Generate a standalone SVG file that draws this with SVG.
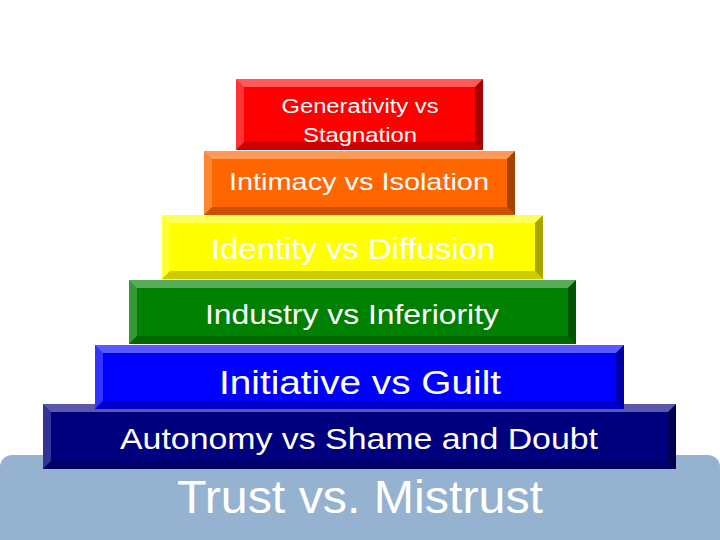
<svg xmlns="http://www.w3.org/2000/svg" width="720" height="540" viewBox="0 0 720 540">
<style>
.t{font-family:'Liberation Sans',Arimo,Arial,Helvetica,sans-serif;fill:#fff;text-anchor:middle}
.hi{fill:#fff;opacity:0.35}
.hi2{fill:#fff;opacity:0.2}
.sh{fill:#000;opacity:0.35}
.sh2{fill:#000;opacity:0.2}
</style>
<rect width="720" height="540" fill="#fff"/>
<g id="trust">
<rect x="0" y="455" width="720" height="100" rx="12" fill="#95B3D0"/>
<text class="t" x="360" y="513" font-size="46" textLength="366" lengthAdjust="spacingAndGlyphs">Trust vs. Mistrust</text>
</g>
<g id="autonomy">
<rect x="43" y="404" width="633" height="65" fill="#00007E"/>
<path class="hi" d="M43 404H676L668 412H51Z"/><path class="hi2" d="M43 404V469L51 461V412Z"/>
<path class="sh" d="M676 404V469L668 461V412Z"/><path class="sh2" d="M43 469H676L668 461H51Z"/>
<text class="t" x="359" y="449" font-size="30" textLength="478" lengthAdjust="spacingAndGlyphs">Autonomy vs Shame and Doubt</text>
</g>
<g id="initiative">
<rect x="95" y="345" width="529" height="64" fill="#0000FF"/>
<path class="hi" d="M95 345H624L616 353H103Z"/><path class="hi2" d="M95 345V409L103 401V353Z"/>
<path class="sh" d="M624 345V409L616 401V353Z"/><path class="sh2" d="M95 409H624L616 401H103Z"/>
<text class="t" x="360" y="394" font-size="33" textLength="282" lengthAdjust="spacingAndGlyphs">Initiative vs Guilt</text>
</g>
<g id="industry">
<rect x="129" y="280" width="447" height="64" fill="#008000"/>
<path class="hi" d="M129 280H576L568 288H137Z"/><path class="hi2" d="M129 280V344L137 336V288Z"/>
<path class="sh" d="M576 280V344L568 336V288Z"/><path class="sh2" d="M129 344H576L568 336H137Z"/>
<text class="t" x="352" y="324" font-size="28" textLength="294" lengthAdjust="spacingAndGlyphs">Industry vs Inferiority</text>
</g>
<g id="identity">
<rect x="162" y="215" width="381" height="64" fill="#FFFF00"/>
<path class="hi" d="M162 215H543L535 223H170Z"/><path class="hi2" d="M162 215V279L170 271V223Z"/>
<path class="sh" d="M543 215V279L535 271V223Z"/><path class="sh2" d="M162 279H543L535 271H170Z"/>
<text class="t" x="353" y="259" font-size="29" textLength="284" lengthAdjust="spacingAndGlyphs">Identity vs Diffusion</text>
</g>
<g id="intimacy">
<rect x="204" y="151" width="311" height="64" fill="#FF6600"/>
<path class="hi" d="M204 151H515L507 159H212Z"/><path class="hi2" d="M204 151V215L212 207V159Z"/>
<path class="sh" d="M515 151V215L507 207V159Z"/><path class="sh2" d="M204 215H515L507 207H212Z"/>
<text class="t" x="359" y="190" font-size="24" textLength="260" lengthAdjust="spacingAndGlyphs">Intimacy vs Isolation</text>
</g>
<g id="generativity">
<rect x="236" y="79" width="247" height="71" fill="#FF0000"/>
<path class="hi" d="M236 79H483L475 87H244Z"/><path class="hi2" d="M236 79V150L244 142V87Z"/>
<path class="sh" d="M483 79V150L475 142V87Z"/><path class="sh2" d="M236 150H483L475 142H244Z"/>
<text class="t" x="360" y="113" font-size="20" textLength="157" lengthAdjust="spacingAndGlyphs">Generativity vs</text>
<text class="t" x="360" y="142" font-size="20" textLength="114" lengthAdjust="spacingAndGlyphs">Stagnation</text>
</g>
</svg>
